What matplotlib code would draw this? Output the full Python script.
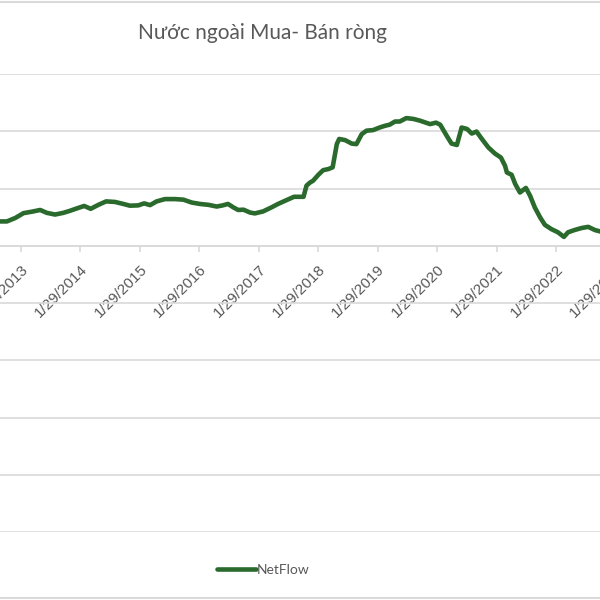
import matplotlib
matplotlib.use("Agg")
import matplotlib.pyplot as plt
from matplotlib.lines import Line2D
import pandas as pd
import numpy as np
from datetime import datetime

# ---- data ----
years_dec = [2012.64, 2012.72, 2012.84, 2012.98, 2013.12, 2013.26, 2013.40, 2013.51, 2013.65, 2013.79,
             2013.90, 2014.01, 2014.14, 2014.25, 2014.38, 2014.51, 2014.66, 2014.80, 2014.91, 2015.05,
             2015.15, 2015.25, 2015.36, 2015.50, 2015.67, 2015.81, 2015.95, 2016.09, 2016.23, 2016.37,
             2016.47, 2016.56, 2016.65, 2016.73, 2016.82, 2016.93, 2017.01, 2017.15, 2017.29, 2017.40,
             2017.55, 2017.67, 2017.83, 2017.88, 2017.94, 2017.99, 2018.08, 2018.16, 2018.25, 2018.32,
             2018.39, 2018.43, 2018.53, 2018.64, 2018.72, 2018.81, 2018.89, 2019.00, 2019.11, 2019.20,
             2019.28, 2019.37, 2019.45, 2019.56, 2019.68, 2019.79, 2019.96, 2020.06, 2020.13, 2020.24,
             2020.32, 2020.41, 2020.49, 2020.58, 2020.66, 2020.74, 2020.83, 2020.94, 2021.05, 2021.15,
             2021.22, 2021.25, 2021.33, 2021.39, 2021.47, 2021.57, 2021.64, 2021.72, 2021.81, 2021.89,
             2022.00, 2022.11, 2022.21, 2022.28, 2022.39, 2022.51, 2022.62, 2022.73, 2022.82, 2022.92]
netflow = [8400, 8500, 8500, 9700, 11400, 11900, 12500, 11500, 10900, 11500,
           12200, 13000, 13900, 12900, 14300, 15500, 15300, 14600, 14000, 14100,
           14800, 14200, 15500, 16300, 16300, 16100, 15100, 14600, 14300, 13700,
           14100, 14600, 13400, 12500, 12600, 11600, 11300, 12000, 13400, 14600,
           16000, 17100, 17100, 21000, 22100, 22700, 24800, 26400, 26800, 27400,
           35500, 37300, 36900, 35700, 35500, 39000, 40200, 40400, 41300, 41900,
           42300, 43400, 43400, 44600, 44300, 43700, 42500, 43000, 42300, 38400,
           35700, 35200, 41300, 40800, 39200, 39900, 37300, 34300, 32200, 30800,
           27900, 25600, 24800, 21600, 18600, 20200, 17500, 13400, 9900, 7300,
           5800, 4700, 3100, 4700, 5500, 6200, 6600, 5500, 5000, 4200]
tick_years = [2013, 2014, 2015, 2016, 2017, 2018, 2019, 2020, 2021, 2022, 2023]
series_name = "NetFlow"
title = "Nước ngoài Mua- Bán ròng"


def dec_to_date(y):
    yi = int(np.floor(y))
    start = pd.Timestamp(year=yi, month=1, day=1)
    end = pd.Timestamp(year=yi + 1, month=1, day=1)
    return start + (end - start) * (y - yi)


dates = [dec_to_date(y) for y in years_dec]

GREEN = "#2A6A2C"
GRAY_TXT = "#595959"
GRID = "#D9D9D9"

# visible window: 2012.724 .. 2022.818 over 600 px; the plot area runs on past the right edge
X0, X_VIS, X1 = 2012.724, 2022.818, 2023.25
w_frac = (X1 - X0) / (X_VIS - X0)

fig = plt.figure(figsize=(6, 6), dpi=100)
ax = fig.add_axes([0.0, 68 / 600, w_frac, 458 / 600])

ax.plot(dates, netflow, color=GREEN, linewidth=3.3, solid_joinstyle="round",
        solid_capstyle="round", label=series_name)

ax.set_yticks(np.arange(-100000, 60001, 20000))
ax.yaxis.grid(True, color=GRID, linewidth=1.2)
ax.set_axisbelow(True)
ax.tick_params(axis="y", left=False, labelleft=False)

for s in ["left", "right", "top"]:
    ax.spines[s].set_visible(False)
ax.spines["bottom"].set_position(("data", 0))
ax.spines["bottom"].set_color(GRID)
ax.spines["bottom"].set_linewidth(1.2)

ticks = [datetime(y, 1, 29) for y in tick_years]
ax.set_xticks(ticks)
ax.set_xticklabels([f"1/29/{y}" for y in tick_years], family="Liberation Sans",
                   fontsize=11, color=GRAY_TXT, rotation=45, ha="right",
                   rotation_mode="anchor")
ax.tick_params(axis="x", direction="out", length=4, width=1.2, color=GRID, pad=8)

ax.set_xlim(dec_to_date(X0), dec_to_date(X1))
ax.set_ylim(-100000, 60000)

fig.text(0.4375, 0.945, title, ha="center", va="center", fontsize=15,
         color=GRAY_TXT, family="Lato")

leg = fig.legend(loc="center", bbox_to_anchor=(0.439, 0.05), frameon=False,
                 prop={"family": "Lato", "size": 10}, handlelength=2.8,
                 handletextpad=0.1, labelcolor=GRAY_TXT)

fig.add_artist(Line2D([0, 1], [1 - 1.5 / 600, 1 - 1.5 / 600], color=GRID, linewidth=1.5,
                      transform=fig.transFigure))
fig.add_artist(Line2D([0, 1], [2 / 600, 2 / 600], color=GRID, linewidth=1.5,
                      transform=fig.transFigure))

fig.savefig("out.png", dpi=100)
